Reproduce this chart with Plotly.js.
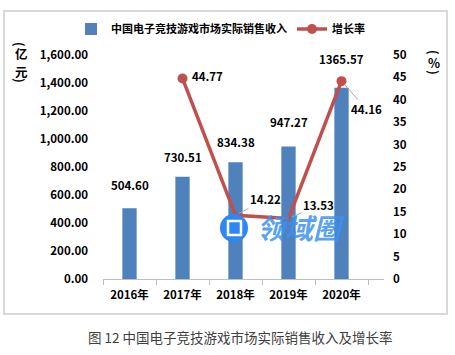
<!DOCTYPE html>
<html><head><meta charset="utf-8">
<script src="https://cdn.plot.ly/plotly-3.0.1.min.js"></script>
<style>html,body{margin:0;padding:0;background:#fff;}</style>
</head><body><div id="chart" style="width:455px;height:355px;"></div>
<script>
const years = ['2016年','2017年','2018年','2019年','2020年'];
const revenue = [504.60, 730.51, 834.38, 947.27, 1365.57];
const growth = [null, 44.77, 14.22, 13.53, 44.16];
const seriesNames = ['中国电子竞技游戏市场实际销售收入', '增长率'];
const captionText = '图 12 中国电子竞技游戏市场实际销售收入及增长率';

const FONT = 'Noto Sans CJK SC, Noto Sans, sans-serif';
const BLUE = '#4F81BD', RED = '#C0504D';
const L = 103, R = 384, T = 55, B = 279;
const px = x => (x - L) / (R - L);
const py = y => (B - y) / (B - T);
const boldFont = (s) => ({family: FONT, size: s, color: '#000', weight: 'bold'});

const bar = {
  type: 'bar', x: years, y: revenue, name: seriesNames[0],
  marker: {color: BLUE}, width: 0.27, yaxis: 'y', hoverinfo: 'none'
};
const line = {
  type: 'scatter', mode: 'lines+markers', x: years, y: growth, name: seriesNames[1],
  yaxis: 'y2', line: {color: RED, width: 3.5},
  marker: {size: 10, color: [RED, RED, 'rgba(0,0,0,0)', 'rgba(0,0,0,0)', RED], line: {width: 0}},
  connectgaps: false, hoverinfo: 'none'
};

const annotations = [];
const barShift = [13, 10, 10, 14, 19];
years.forEach((yr, i) => {
  annotations.push({x: yr, y: revenue[i], xref: 'x', yref: 'y', text: revenue[i].toFixed(2),
    showarrow: false, yshift: barShift[i], yanchor: 'bottom', xanchor: 'center',
    font: boldFont(11.5)});
});
const lineOff = [null, {ax: 25, ay: -2, arrow: false}, {ax: 30, ay: -16, arrow: true},
                 {ax: 30, ay: -13, arrow: true}, {ax: 25, ay: 28, arrow: true}];
years.forEach((yr, i) => {
  if (growth[i] == null) return;
  const o = lineOff[i];
  annotations.push({x: yr, y: growth[i], xref: 'x', yref: 'y2', text: growth[i].toFixed(2),
    showarrow: true, arrowhead: 0, arrowwidth: 1, arrowcolor: o.arrow ? '#A6A6A6' : 'rgba(0,0,0,0)',
    standoff: 4, ax: o.ax, ay: o.ay, axref: 'pixel', ayref: 'pixel',
    font: boldFont(11.5)});
});
// vertical (stacked) axis titles
const leftTitle = [['(', 44, 90], ['亿', 54, 0], ['元', 71, 0], [')', 80, 90]];
leftTitle.forEach(([c, y, a]) => annotations.push({xref: 'paper', yref: 'paper', x: px(21), y: py(y),
  xanchor: 'center', yanchor: 'middle', textangle: a,
  text: c, showarrow: false, font: boldFont(12.5)}));
const rightTitle = [['(', 52, 90], ['%', 62, 0], [')', 72, 90]];
rightTitle.forEach(([c, y, a]) => annotations.push({xref: 'paper', yref: 'paper', x: px(434), y: py(y),
  xanchor: 'center', yanchor: 'middle', textangle: a,
  text: c, showarrow: false, font: boldFont(12.5)}));
// caption
annotations.push({xref: 'paper', yref: 'paper', x: px(240), y: py(337), xanchor: 'center', yanchor: 'middle',
  text: captionText, showarrow: false, font: {family: FONT, size: 13.5, color: '#404040', weight: 'normal'}});
// watermark
annotations.push({xref: 'paper', yref: 'paper', x: px(301), y: py(227), xanchor: 'center', yanchor: 'middle',
  text: '<i>领域圈</i>', showarrow: false,
  font: {family: FONT, size: 28, color: 'rgba(60,145,240,0.85)', weight: 'bold'}});

const shapes = [
  {type: 'rect', xref: 'paper', yref: 'paper', x0: px(4), x1: px(447), y0: py(314), y1: py(11),
   line: {color: '#D9D9D9', width: 2}, fillcolor: 'rgba(0,0,0,0)', layer: 'below'},
  {type: 'circle', xref: 'paper', yref: 'paper', x0: px(220), x1: px(248), y0: py(242), y1: py(214),
   line: {width: 0}, fillcolor: '#2F86F5', layer: 'above'},
  {type: 'rect', xref: 'paper', yref: 'paper', x0: px(228), x1: px(241), y0: py(235), y1: py(221),
   line: {width: 2.5, color: '#fff'}, fillcolor: 'rgba(0,0,0,0)', layer: 'above'}
];

const layout = {
  width: 455, height: 355,
  margin: {l: L, r: 455 - R, t: T, b: 355 - B},
  paper_bgcolor: '#fff', plot_bgcolor: 'rgba(0,0,0,0)',
  font: boldFont(11.5),
  showlegend: true,
  legend: {orientation: 'h', x: px(71), y: py(29), xanchor: 'left', yanchor: 'middle',
    font: boldFont(11), itemclick: false, traceorder: 'normal'},
  xaxis: {type: 'category', showline: true, linecolor: '#BFBFBF', linewidth: 1,
    ticks: 'outside', tickson: 'boundaries', ticklen: 5, tickcolor: '#BFBFBF',
    showgrid: false, zeroline: false, ticklabelstandoff: 5,
    tickfont: boldFont(11.5)},
  yaxis: {range: [0, 1600], dtick: 200, tickformat: ',.2f', showgrid: false, zeroline: false,
    showline: false, ticks: '', ticklabelstandoff: 14,
    tickfont: boldFont(11.5)},
  yaxis2: {range: [0, 50], dtick: 5, overlaying: 'y', side: 'right', showgrid: false, zeroline: false,
    showline: false, ticks: '', ticklabelstandoff: 8,
    tickfont: boldFont(11.5)},
  annotations: annotations, shapes: shapes
};
Plotly.newPlot('chart', [bar, line], layout, {staticPlot: true, displayModeBar: false});
</script></body></html>
